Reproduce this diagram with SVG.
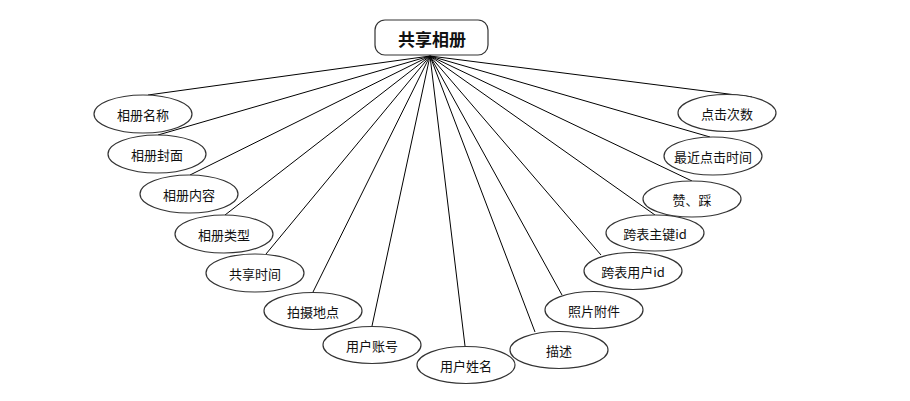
<svg xmlns="http://www.w3.org/2000/svg" width="910" height="401" viewBox="0 0 910 401">
<style>
.e{fill:#fff;stroke:#333;stroke-width:1.2}
.t{font-family:"Noto Sans CJK SC","Liberation Sans",sans-serif;font-size:13px;fill:#111;text-anchor:middle;dominant-baseline:central}
.c line{stroke:#000;stroke-width:1}
</style>
<rect width="910" height="401" fill="#fff"/>
<g class="c" id="connectors">
<line x1="430" y1="56" x2="148" y2="95"/>
<line x1="430" y1="56" x2="158" y2="135"/>
<line x1="430" y1="56" x2="190" y2="175"/>
<line x1="430" y1="56" x2="225" y2="215"/>
<line x1="430" y1="56" x2="266" y2="254"/>
<line x1="430" y1="56" x2="313" y2="292"/>
<line x1="430" y1="56" x2="372" y2="326"/>
<line x1="430" y1="56" x2="465" y2="346"/>
<line x1="430" y1="56" x2="535" y2="332"/>
<line x1="430" y1="56" x2="562" y2="295"/>
<line x1="430" y1="56" x2="601" y2="255"/>
<line x1="430" y1="56" x2="655" y2="215"/>
<line x1="430" y1="56" x2="692" y2="181"/>
<line x1="430" y1="56" x2="710" y2="137"/>
<line x1="430" y1="56" x2="752" y2="97"/>
</g>
<g id="root">
<rect x="375" y="20" width="113" height="35" rx="10" ry="10" fill="#fff" stroke="#333" stroke-width="1.2"/>
<text x="432" y="38" class="t" style="font-size:17px;font-weight:bold">共享相册</text>
</g>
<g id="n1"><ellipse class="e" cx="143" cy="114" rx="49" ry="19"/><text class="t" x="143" y="114">相册名称</text></g>
<g id="n2"><ellipse class="e" cx="157" cy="154" rx="49" ry="19"/><text class="t" x="157" y="154">相册封面</text></g>
<g id="n3"><ellipse class="e" cx="189" cy="194" rx="49" ry="19"/><text class="t" x="189" y="194">相册内容</text></g>
<g id="n4"><ellipse class="e" cx="224" cy="234" rx="49" ry="19"/><text class="t" x="224" y="234">相册类型</text></g>
<g id="n5"><ellipse class="e" cx="255" cy="273" rx="49" ry="19"/><text class="t" x="255" y="273">共享时间</text></g>
<g id="n6"><ellipse class="e" cx="313" cy="311" rx="49" ry="18.5"/><text class="t" x="313" y="311">拍摄地点</text></g>
<g id="n7"><ellipse class="e" cx="372" cy="345" rx="49" ry="18.5"/><text class="t" x="372" y="345">用户账号</text></g>
<g id="n8"><ellipse class="e" cx="466" cy="365" rx="49" ry="18.5"/><text class="t" x="466" y="365">用户姓名</text></g>
<g id="n9"><ellipse class="e" cx="559" cy="350" rx="49" ry="18.5"/><text class="t" x="559" y="350">描述</text></g>
<g id="n10"><ellipse class="e" cx="594" cy="310" rx="49" ry="18.5"/><text class="t" x="594" y="310">照片附件</text></g>
<g id="n11"><ellipse class="e" cx="633" cy="271" rx="49" ry="18.5"/><text class="t" x="633" y="271">跨表用户id</text></g>
<g id="n12"><ellipse class="e" cx="655" cy="233" rx="49" ry="18"/><text class="t" x="655" y="233">跨表主键id</text></g>
<g id="n13"><ellipse class="e" cx="692" cy="199" rx="49" ry="18"/><text class="t" x="692" y="199">赞、踩</text></g>
<g id="n14"><ellipse class="e" cx="713" cy="156" rx="49" ry="19"/><text class="t" x="713" y="156">最近点击时间</text></g>
<g id="n15"><ellipse class="e" cx="727" cy="113" rx="49" ry="18.5"/><text class="t" x="727" y="113">点击次数</text></g>
</svg>
